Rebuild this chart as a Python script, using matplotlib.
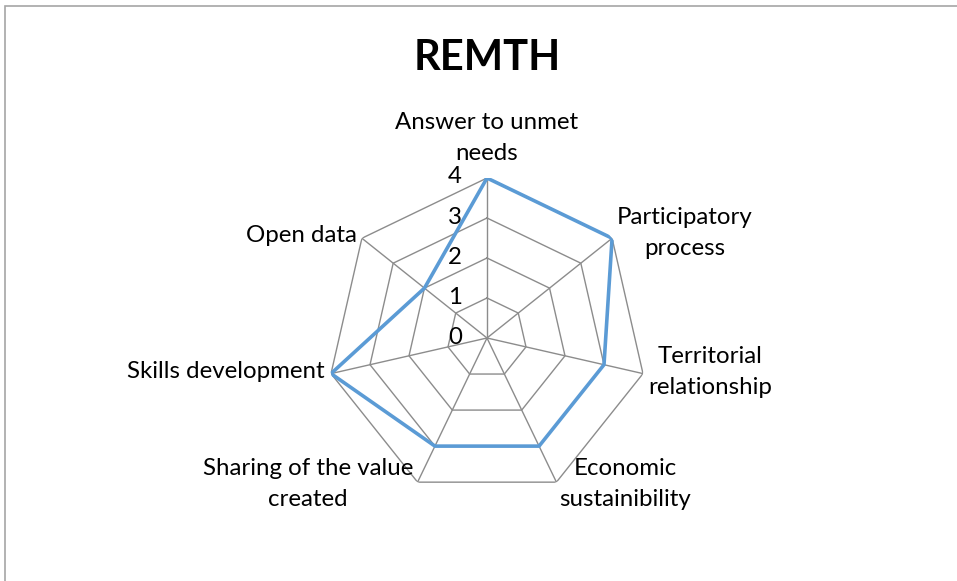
import numpy as np
import matplotlib
matplotlib.use("Agg")
import matplotlib.pyplot as plt
from matplotlib.patches import Rectangle

title = "REMTH"
categories = ["Answer to unmet\nneeds", "Participatory\nprocess", "Territorial\nrelationship",
              "Economic\nsustainibility", "Sharing of the value\ncreated", "Skills development",
              "Open data"]
values = [4, 4, 3, 3, 3, 4, 2]
rings = [0, 1, 2, 3, 4]
ring_labels = ["0", "1", "2", "3", "4"]

W, H = 957, 581
plt.rcParams['font.family'] = ['Lato', 'DejaVu Sans']
fig = plt.figure(figsize=(W / 100, H / 100), dpi=100)

# frame
fig.patches.append(Rectangle((5 / W, -0.1), 1.2, 1 - 6 / H + 0.1, transform=fig.transFigure,
                             fill=False, edgecolor="#A6A6A6", linewidth=1.2))

cx, cy, R = 487, 338, 160
ax = fig.add_axes([(cx - R) / W, (H - cy - R) / H, 2 * R / W, 2 * R / H], projection='polar')
ax.set_theta_zero_location('N')
ax.set_theta_direction(-1)
ax.set_ylim(0, 4)
ax.grid(False)
ax.set_xticks([])
ax.set_yticks([])
ax.spines['polar'].set_visible(False)
ax.patch.set_alpha(0)

n = len(categories)
theta = np.arange(n) * 2 * np.pi / n
theta_c = np.append(theta, theta[0])
grid_col = "#8C8C8C"
for r in rings[1:]:
    ax.plot(theta_c, [r] * (n + 1), color=grid_col, lw=1.0, zorder=1)
for t in theta:
    ax.plot([t, t], [0, rings[-1]], color=grid_col, lw=1.0, zorder=1)

vals_c = values + values[:1]
ax.plot(theta_c, vals_c, color="#5B9BD5", lw=2.6, zorder=3, solid_joinstyle='miter')

fs = 17.3
for r, lab in zip(rings, ring_labels):
    fig.text(455 / W, 1 - (cy - 40 * r - 1) / H, lab, ha='center', va='center', fontsize=fs)

label_pos = [(487, 138), (685, 233), (710, 372), (625, 484), (308, 484), (226, 372), (301, 235)]
for lab, (x, y) in zip(categories, label_pos):
    fig.text(x / W, 1 - y / H, lab, ha='center', va='center', fontsize=fs, linespacing=1.62)

fig.text(487 / W, 1 - 58 / H, title, ha='center', va='center', fontsize=30, fontweight='bold')

fig.savefig("out.png", dpi=100)
